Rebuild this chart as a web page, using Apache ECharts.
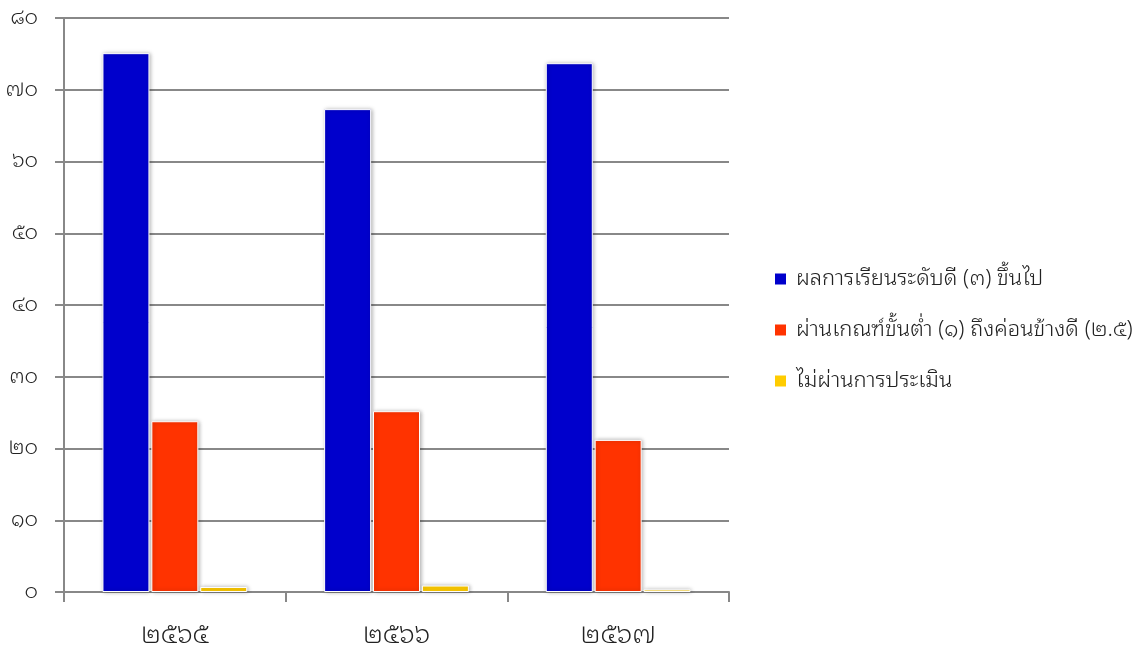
<!DOCTYPE html>
<html>
<head>
<meta charset="utf-8">
<script src="https://cdn.jsdelivr.net/npm/echarts@6/dist/echarts.min.js"></script>
<style>
html,body{margin:0;padding:0;background:#fff;}
#chart{width:1138px;height:650px;}
</style>
</head>
<body>
<div id="chart"></div>
<script>
const categories = ['๒๕๖๕', '๒๕๖๖', '๒๕๖๗'];
const seriesNames = ['ผลการเรียนระดับดี (๓) ขึ้นไป', 'ผ่านเกณฑ์ขั้นต่ำ (๑) ถึงค่อนข้างดี (๒.๕)', 'ไม่ผ่านการประเมิน'];
const goodValues = [75.1, 67.3, 73.7];
const passValues = [23.8, 25.2, 21.2];
const failValues = [0.7, 0.9, 0.35];
const thaiDigits = ['๐','๑','๒','๓','๔','๕','๖','๗','๘','๙'];
const colors = ['#0000CC', '#FF3300', '#FFCC00'];

function toThai(n) { return String(n).replace(/[0-9]/g, d => thaiDigits[+d]); }

const font = "'Noto Sans Thai Looped', Loma, Garuda, Waree, 'Tlwg Typo', Tahoma, 'Noto Sans Thai', 'Noto Sans', sans-serif";
const chart = echarts.init(document.getElementById('chart'));
const barStyle = (c) => ({
  color: c, borderColor: '#fff', borderWidth: 1,
  shadowColor: 'rgba(0,0,0,0.3)', shadowBlur: 4, shadowOffsetX: 1, shadowOffsetY: 0
});
const dataSets = [goodValues, passValues, failValues];
chart.setOption({
  animation: false,
  grid: { left: 64, right: 409, top: 18, bottom: 58 },
  legend: {
    orient: 'vertical', left: 773, top: 268, padding: 0,
    itemWidth: 13, itemHeight: 13, itemGap: 29,
    icon: 'rect',
    textStyle: { fontFamily: font, fontSize: 22, color: '#222', fontWeight: 300, padding: [0, 0, 0, 4] },
    data: seriesNames
  },
  xAxis: {
    type: 'category', data: categories,
    axisLine: { lineStyle: { color: '#888', width: 2 } },
    axisTick: { show: true, length: 10, lineStyle: { color: '#888', width: 2 } },
    axisLabel: { fontFamily: font, fontSize: 26, color: '#222', fontWeight: 300, margin: 31 }
  },
  yAxis: {
    type: 'value', min: 0, max: 80, interval: 10,
    axisLine: { show: true, lineStyle: { color: '#888', width: 2 } },
    axisTick: { show: true, length: 9, lineStyle: { color: '#888', width: 2 } },
    splitLine: { lineStyle: { color: '#888', width: 2 } },
    axisLabel: { fontFamily: font, fontSize: 21, color: '#222', fontWeight: 300, margin: 26, formatter: v => toThai(v) }
  },
  series: seriesNames.map((name, i) => ({
    name, type: 'bar', data: dataSets[i],
    barWidth: 47, barGap: '4%',
    itemStyle: barStyle(colors[i])
  }))
});
</script>
</body>
</html>
